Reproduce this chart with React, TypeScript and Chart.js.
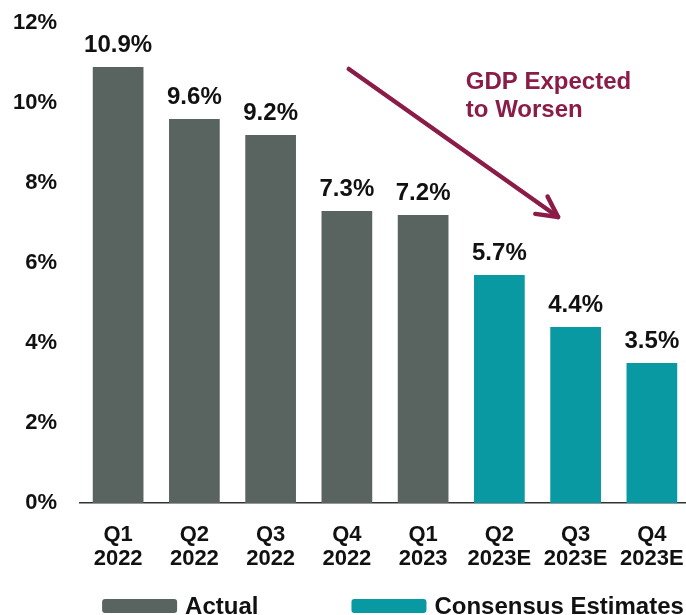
import React, { useEffect, useRef } from "react";
import { Chart, registerables } from "chart.js";

Chart.register(...registerables);

const categories: string[][] = [
  ["Q1", "2022"], ["Q2", "2022"], ["Q3", "2022"], ["Q4", "2022"],
  ["Q1", "2023"], ["Q2", "2023E"], ["Q3", "2023E"], ["Q4", "2023E"],
];
const actualValues: (number | null)[] = [10.9, 9.6, 9.2, 7.3, 7.2, null, null, null];
const estimateValues: (number | null)[] = [null, null, null, null, null, 5.7, 4.4, 3.5];
const yTicks: number[] = [0, 2, 4, 6, 8, 10, 12];
const annotationLines: string[] = ["GDP Expected", "to Worsen"];
// arrow start/end in data space (category index, percent)
const arrowFrom: [number, number] = [3.025, 10.85];
const arrowTo: [number, number] = [5.77, 7.15];
const annotationAnchor: [number, number] = [4.56, 10.525];

const FONT = "'Liberation Sans', Arial, Helvetica, sans-serif";
const GRAY = "#59635f";
const TEAL = "#0899a2";
const MAROON = "#8a1c47";

const valueLabelPlugin = {
  id: "valueLabels",
  afterDatasetsDraw(chart: any) {
    const ctx = chart.ctx;
    ctx.save();
    ctx.font = `bold 24px ${FONT}`;
    ctx.fillStyle = "#111";
    ctx.textAlign = "center";
    ctx.textBaseline = "alphabetic";
    chart.data.datasets.forEach((ds: any, i: number) => {
      const meta = chart.getDatasetMeta(i);
      meta.data.forEach((el: any, j: number) => {
        const v = ds.data[j];
        if (v == null) return;
        ctx.fillText(v.toFixed(1) + "%", el.x, el.y - 15);
      });
    });
    ctx.restore();
  },
};

const annotationPlugin = {
  id: "gdpAnnotation",
  afterDraw(chart: any) {
    const ctx = chart.ctx;
    const xs = chart.scales.x;
    const ys = chart.scales.y;
    const x1 = xs.getPixelForValue(arrowFrom[0]);
    const y1 = ys.getPixelForValue(arrowFrom[1]);
    const x2 = xs.getPixelForValue(arrowTo[0]);
    const y2 = ys.getPixelForValue(arrowTo[1]);
    ctx.save();
    ctx.strokeStyle = MAROON;
    ctx.lineWidth = 4.5;
    ctx.lineCap = "round";
    ctx.lineJoin = "round";
    ctx.beginPath();
    ctx.moveTo(x1, y1);
    ctx.lineTo(x2, y2);
    ctx.stroke();
    const ang = Math.atan2(y2 - y1, x2 - x1);
    const head = 23;
    const spread = 0.48;
    ctx.beginPath();
    ctx.moveTo(x2 - head * Math.cos(ang - spread), y2 - head * Math.sin(ang - spread));
    ctx.lineTo(x2, y2);
    ctx.lineTo(x2 - head * Math.cos(ang + spread), y2 - head * Math.sin(ang + spread));
    ctx.stroke();

    ctx.fillStyle = MAROON;
    ctx.font = `bold 24px ${FONT}`;
    ctx.textAlign = "left";
    ctx.textBaseline = "middle";
    const tx = xs.getPixelForValue(annotationAnchor[0]);
    const ty = ys.getPixelForValue(annotationAnchor[1]);
    annotationLines.forEach((line, k) => ctx.fillText(line, tx, ty + k * 28));
    ctx.restore();
  },
};

const legendPlugin = {
  id: "customLegend",
  afterDraw(chart: any) {
    const ctx = chart.ctx;
    const area = chart.chartArea;
    ctx.save();
    ctx.font = `bold 24px ${FONT}`;
    ctx.textBaseline = "middle";
    ctx.textAlign = "left";
    const boxW = 75;
    const boxH = 14;
    const gapText = 8;
    const gapItem = 93;
    const items = chart.data.datasets.map((ds: any) => ({
      label: ds.label,
      color: ds.backgroundColor,
      w: boxW + gapText + ctx.measureText(ds.label).width,
    }));
    const total = items.reduce((s: number, it: any) => s + it.w, 0) + gapItem * (items.length - 1);
    let x = (area.left + area.right) / 2 + 8 - total / 2;
    const y = chart.height - 9;
    items.forEach((it: any) => {
      ctx.fillStyle = it.color;
      ctx.beginPath();
      ctx.roundRect(x, y - boxH / 2, boxW, boxH, 3);
      ctx.fill();
      ctx.fillStyle = "#111";
      ctx.fillText(it.label, x + boxW + gapText, y + 1);
      x += it.w + gapItem;
    });
    ctx.restore();
  },
};

export default function App() {
  const ref = useRef<HTMLCanvasElement>(null);
  useEffect(() => {
    if (!ref.current) return;
    const chart = new Chart(ref.current, {
      type: "bar",
      data: {
        labels: categories,
        datasets: [
          {
            label: "Actual",
            data: actualValues,
            backgroundColor: GRAY,
            categoryPercentage: 1,
            barPercentage: 0.665,
          },
          {
            label: "Consensus Estimates",
            data: estimateValues,
            backgroundColor: TEAL,
            categoryPercentage: 1,
            barPercentage: 0.665,
          },
        ],
      },
      options: {
        responsive: false,
        animation: false,
        skipNull: true,
        layout: { padding: { top: 23, right: 0, left: 0, bottom: 0 } },
        plugins: {
          legend: { display: false },
          tooltip: { enabled: false },
        },
        scales: {
          x: {
            grid: { display: false, drawTicks: false },
            border: { display: true, color: "#333", width: 1.5 },
            ticks: {
              color: "#111",
              font: { family: FONT, size: 22, weight: "bold", lineHeight: 1.1 },
              padding: 20,
              maxRotation: 0,
              autoSkip: false,
            },
            afterFit: (s: any) => {
              s.height = 112;
              s.paddingLeft = 0;
              s.paddingRight = 0;
            },
          },
          y: {
            min: 0,
            max: 12,
            afterBuildTicks: (s: any) => { s.ticks = yTicks.map((v) => ({ value: v })); },
            grid: { display: false, drawTicks: false },
            border: { display: false },
            ticks: {
              color: "#111",
              font: { family: FONT, size: 22, weight: "bold" },
              padding: 23,
              callback: (v: any) => v + "%",
            },
            afterFit: (s: any) => {
              s.width = 80;
              s.paddingTop = 0;
              s.paddingBottom = 0;
            },
          },
        },
      } as any,
      plugins: [valueLabelPlugin, annotationPlugin, legendPlugin],
    });
    return () => chart.destroy();
  }, []);
  return (
    <div style={{ position: "absolute", left: 0, top: 0, width: 686, height: 615, overflow: "hidden", background: "#fff" }}>
      <canvas ref={ref} width={690} height={615} />
    </div>
  );
}
